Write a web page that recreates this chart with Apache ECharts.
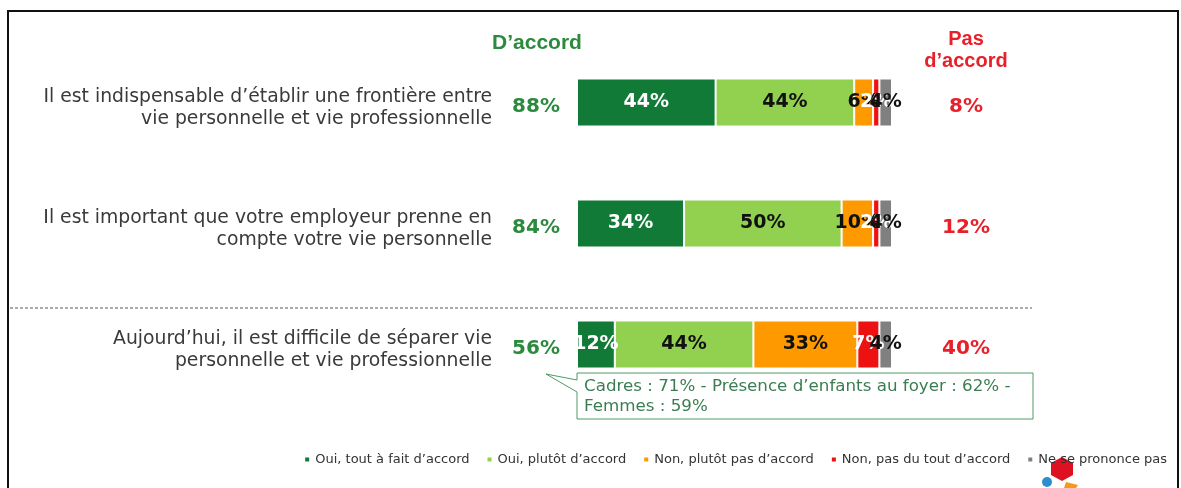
<!DOCTYPE html>
<html>
<head>
<meta charset="utf-8">
<script src="https://cdn.jsdelivr.net/npm/echarts@6/dist/echarts.min.js"></script>
<style>
  html, body { margin: 0; padding: 0; background: #fff; }
  #panel { width: 1181px; height: 488px; }
</style>
</head>
<body>
<div id="panel"></div>
<script>
const COLORS = ['#117a37', '#92d050', '#ff9900', '#ee1111', '#808080'];
const FONT = '"DejaVu Sans", Verdana, sans-serif';

// données
const categories = [
  'Il est indispensable d\u2019établir une frontière entre\nvie personnelle et vie professionnelle',
  'Il est important que votre employeur prenne en\ncompte votre vie personnelle',
  'Aujourd\u2019hui, il est difficile de séparer vie\npersonnelle et vie professionnelle'
];
const seriesNames = [
  'Oui, tout à fait d\u2019accord',
  'Oui, plutôt d\u2019accord',
  'Non, plutôt pas d\u2019accord',
  'Non, pas du tout d\u2019accord',
  'Ne se prononce pas'
];
const toutAFait = [44, 34, 12];
const plutot = [44, 50, 44];
const plutotPas = [6, 10, 33];
const pasDuTout = [2, 2, 7];
const nsp = [4, 4, 4];
const accordTotals = [88, 84, 56];
const pasAccordTotals = [8, 12, 40];

const values = [toutAFait, plutot, plutotPas, pasDuTout, nsp];
const labelColors = ['#fff', '#111', '#111', '#fff', '#111'];

const myChart = echarts.init(document.getElementById('panel'));

const series = values.map((data, i) => ({
  name: seriesNames[i],
  type: 'bar',
  stack: 'total',
  barWidth: 48,
  data: data,
  itemStyle: { color: COLORS[i], borderColor: '#fff', borderWidth: 1 },
  label: {
    show: true,
    position: 'inside',
    formatter: '{c}%',
    color: labelColors[i],
    fontFamily: FONT,
    fontWeight: 'bold',
    fontSize: 19
  },
  labelLayout: { hideOverlap: false }
}));

// petit interligne vide en tête pour décaler le texte vers le bas
const shifted = (text, gap) => '{s| }\n' + text.split('\n').map(t => '{t|' + t + '}').join('\n');

const totalAxis = (data, position, color) => ({
  type: 'category',
  inverse: true,
  position: position,
  data: data.map(v => v + '%'),
  axisLine: { show: false },
  axisTick: { show: false },
  axisLabel: {
    margin: position === 'left' ? 41 : 74,
    align: 'center',
    formatter: v => shifted(v),
    rich: {
      s: { lineHeight: 8, fontSize: 4 },
      t: { color: color, fontFamily: FONT, fontWeight: 'bold', fontSize: 20, lineHeight: 22 }
    }
  }
});

const option = {
  backgroundColor: '#fff',
  animation: false,
  grid: { left: 577, right: 289, top: 42, bottom: 83 },
  xAxis: { type: 'value', min: 0, max: 100, show: false },
  yAxis: [
    {
      type: 'category',
      inverse: true,
      data: categories,
      axisLine: { show: false },
      axisTick: { show: false },
      axisLabel: {
        margin: 85,
        align: 'right',
        formatter: v => shifted(v),
        rich: {
          s: { lineHeight: 12, fontSize: 4 },
          t: { color: '#3a3a3a', fontFamily: FONT, fontSize: 18.8, lineHeight: 22, align: 'right' }
        }
      }
    },
    totalAxis(accordTotals, 'left', '#2b8a3e'),
    totalAxis(pasAccordTotals, 'right', '#e8202a')
  ],
  legend: {
    data: seriesNames,
    right: 9,
    top: 448,
    icon: 'rect',
    itemWidth: 6,
    itemHeight: 6,
    itemGap: 16,
    textStyle: { color: '#333', fontFamily: FONT, fontSize: 13 }
  },
  series: series,
  graphic: [
    // cadre
    { type: 'rect', shape: { x: 8, y: 11, width: 1170, height: 500 },
      style: { fill: 'none', stroke: '#111', lineWidth: 2 }, silent: true, z: 0 },
    // séparateur
    { type: 'line', shape: { x1: 10, y1: 308, x2: 1032, y2: 308 },
      style: { stroke: '#555', lineWidth: 1, lineDash: [3, 2] }, silent: true },
    // en-têtes
    { type: 'text', x: 537, y: 33,
      style: { text: 'D\u2019accord', fill: '#2b8a3e', align: 'center',
        font: 'bold 21px "Liberation Sans Narrow", "Liberation Sans", sans-serif' } },
    { type: 'text', x: 966, y: 28,
      style: { text: 'Pas\nd\u2019accord', fill: '#e8202a', align: 'center', lineHeight: 22,
        font: 'bold 20px "Liberation Sans Narrow", "Liberation Sans", sans-serif' } },
    // bulle d'annotation
    { type: 'polygon',
      shape: { points: [[546, 374], [577, 380], [577, 373], [1033, 373], [1033, 419], [577, 419], [577, 392]] },
      style: { fill: '#fff', stroke: '#4f9a68', lineWidth: 1 }, z: 10 },
    { type: 'text', x: 584, y: 377, z: 11,
      style: { text: 'Cadres : 71% - Présence d\u2019enfants au foyer : 62% -\nFemmes : 59%',
        fill: '#3a7d52', lineHeight: 20, font: '16.7px "DejaVu Sans", Verdana, sans-serif' } },
    // logo
    { type: 'polygon', shape: { points: [[1062, 457], [1073, 463], [1073, 475], [1062, 481], [1051, 475], [1051, 463]] },
      style: { fill: '#dd1122' } },
    { type: 'circle', shape: { cx: 1047, cy: 482, r: 5 }, style: { fill: '#2a8fd0' } },
    { type: 'polygon', shape: { points: [[1066, 482], [1078, 485], [1076, 488], [1064, 488]] },
      style: { fill: '#f39a1e' } }
  ]
};

myChart.setOption(option);
</script>
</body>
</html>
